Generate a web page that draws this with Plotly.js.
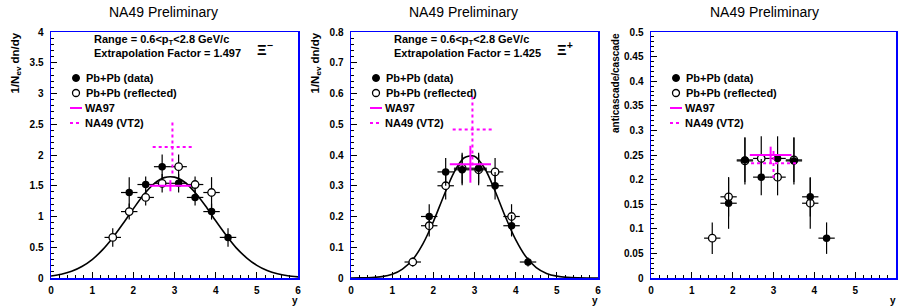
<!DOCTYPE html>
<html>
<head>
<meta charset="utf-8">
<script src="https://cdn.plot.ly/plotly-3.0.1.min.js"></script>
<style>html,body{margin:0;padding:0;background:#fff}#chart{width:898px;height:308px}</style>
</head>
<body>
<div id="chart"></div>
<script>
// ---------------- data ----------------
const dataX      = [1.9, 2.3, 2.7, 3.1, 3.5, 3.9, 4.3];
const reflX      = [1.5, 1.9, 2.3, 2.7, 3.1, 3.5, 3.9];
const binHalfW   = 0.2;

// Panel 1: Xi-
const xiM_data   = [1.39, 1.52, 1.81, 1.54, 1.31, 1.08, 0.66];
const xiM_dataE  = [0.25, 0.13, 0.20, 0.15, 0.13, 0.13, 0.15];
const xiM_refl   = [0.66, 1.08, 1.31, 1.54, 1.81, 1.52, 1.39];
const xiM_reflE  = [0.15, 0.13, 0.13, 0.15, 0.20, 0.13, 0.25];
// Panel 2: Xi+
const xiP_data   = [0.200, 0.345, 0.352, 0.357, 0.300, 0.170, 0.052];
const xiP_dataE  = [0.040, 0.045, 0.050, 0.050, 0.045, 0.035, 0.015];
const xiP_refl   = [0.052, 0.170, 0.300, 0.357, 0.352, 0.345, 0.200];
const xiP_reflE  = [0.015, 0.035, 0.045, 0.050, 0.050, 0.045, 0.040];
// Panel 3: ratio
const ratio_data  = [0.152, 0.240, 0.205, 0.243, 0.238, 0.165, 0.081];
const ratio_dataE = [0.052, 0.045, 0.037, 0.045, 0.048, 0.040, 0.032];
const ratio_refl  = [0.081, 0.165, 0.238, 0.243, 0.205, 0.240, 0.152];
const ratio_reflE = [0.032, 0.040, 0.048, 0.045, 0.037, 0.045, 0.052];

// fitted curves
const curveX  = [0,0.25,0.5,0.75,1,1.25,1.5,1.75,2,2.25,2.5,2.75,3,3.25,3.5,3.75,4,4.25,4.5,4.75,5,5.25,5.5,5.75,6];
const curveXiM = [0.032,0.060,0.109,0.187,0.300,0.457,0.655,0.885,1.125,1.352,1.530,1.632,1.640,1.557,1.390,1.174,0.930,0.699,0.490,0.329,0.206,0.122,0.068,0.036,0.018];
const curveXiP = [0.0001,0.0004,0.0015,0.0046,0.012,0.029,0.060,0.112,0.183,0.266,0.343,0.391,0.396,0.356,0.283,0.199,0.125,0.069,0.034,0.015,0.006,0.002,0.0006,0.0002,0.0];

// WA97 (solid) and NA49 VT2 (dotted) reference points: [x, xerr, y, yerr]
const wa97XiM  = [2.9, 0.5, 1.50, 0.09];
const vt2XiM   = [2.95, 0.48, 2.13, 0.43];
const wa97XiP  = [2.9, 0.5, 0.370, 0.060];
const vt2XiP   = [2.95, 0.48, 0.483, 0.117];
const wa97Rat  = [2.93, 0.51, 0.250, 0.017];
const vt2Rat   = [3.0, 0.55, 0.233, 0.030];

const panelTitle = 'NA49 Preliminary';
const yTitles = ['1/N<sub>ev</sub> dn/dy', '1/N<sub>ev</sub> dn/dy', 'anticascade/cascade'];
const yTitleSizes = [11.5, 11.5, 10];
const yRanges = [[0,4],[0,0.8],[0,0.5]];
const yDticks = [0.5, 0.1, 0.05];
const yMinor  = [0.1, 0.02, 0.01];
const legendLabels = ['Pb+Pb (data)', 'Pb+Pb (reflected)', 'WA97', 'NA49 (VT2)'];
const rangeText = 'Range = 0.6<p<sub>T</sub><2.8 GeV/c';
const extrapText = ['Extrapolation Factor = 1.497', 'Extrapolation Factor = 1.425'];
const particleLabels = ['Ξ<sup>−</sup>', 'Ξ<sup>+</sup>'];

// ---------------- layout geometry ----------------
const W = 898, H = 308;
const P = x => x / W;
const Q = y => 1 - y / H;
const lefts = [51, 351, 651];
const rights = [298, 598, 896];
const topPx = 32, bottomPx = 278;
const FONT = 'Liberation Sans, Arial, sans-serif';
const MAG = '#ff00ff';

const traces = [];
const sfx = ['', '2', '3'];
const panels = [
  {d: xiM_data, de: xiM_dataE, r: xiM_refl, re: xiM_reflE, c: curveXiM, wa: wa97XiM, vt: vt2XiM},
  {d: xiP_data, de: xiP_dataE, r: xiP_refl, re: xiP_reflE, c: curveXiP, wa: wa97XiP, vt: vt2XiP},
  {d: ratio_data, de: ratio_dataE, r: ratio_refl, re: ratio_reflE, c: null, wa: wa97Rat, vt: vt2Rat}
];

function cross(p) {
  return {
    x: [p[0]-p[1], p[0]+p[1], null, p[0], p[0]],
    y: [p[2], p[2], null, p[2]-p[3], p[2]+p[3]]
  };
}

panels.forEach((pn, i) => {
  const xa = 'x' + sfx[i], ya = 'y' + sfx[i];
  if (pn.c) {
    traces.push({x: curveX, y: pn.c, xaxis: xa, yaxis: ya, mode: 'lines',
      line: {color: '#000', width: 1.6, shape: 'spline', smoothing: 0.8}, hoverinfo: 'skip'});
  }
  const eb = (arr) => ({type: 'data', array: arr, visible: true, color: '#000', thickness: 1.2, width: 0});
  const ebx = {type: 'constant', value: binHalfW, visible: true, color: '#000', thickness: 1.2, width: 0};
  traces.push({x: reflX, y: pn.r, xaxis: xa, yaxis: ya, mode: 'markers',
    marker: {symbol: 'circle', size: 7.5, color: '#fff', line: {color: '#000', width: 1.3}},
    error_y: eb(pn.re), error_x: ebx});
  traces.push({x: dataX, y: pn.d, xaxis: xa, yaxis: ya, mode: 'markers',
    marker: {symbol: 'circle', size: 7.5, color: '#000'},
    error_y: eb(pn.de), error_x: ebx});
  const w = cross(pn.wa);
  traces.push({x: w.x, y: w.y, xaxis: xa, yaxis: ya, mode: 'lines',
    line: {color: MAG, width: 2}, hoverinfo: 'skip'});
  const v = cross(pn.vt);
  traces.push({x: v.x, y: v.y, xaxis: xa, yaxis: ya, mode: 'lines',
    line: {color: MAG, width: 2, dash: 'dot'}, hoverinfo: 'skip'});
});

const tickFont = {family: FONT, size: 10, color: '#000', weight: 'bold'};
const layout = {
  width: W, height: H,
  margin: {l: 0, r: 0, t: 0, b: 0},
  paper_bgcolor: '#fff', plot_bgcolor: '#fff',
  showlegend: false,
  annotations: [], shapes: []
};

for (let i = 0; i < 3; i++) {
  const xk = 'xaxis' + sfx[i], yk = 'yaxis' + sfx[i];
  layout[xk] = {
    domain: [P(lefts[i]), P(rights[i])], anchor: 'y' + sfx[i],
    range: [0, 6], tick0: 0, dtick: 1,
    showline: true, linecolor: '#0000ff', linewidth: 1.5, mirror: true,
    ticks: 'inside', ticklen: 6, tickwidth: 1, tickcolor: '#000',
    minor: {dtick: 0.2, tick0: 0, ticks: 'inside', ticklen: 3, tickwidth: 1, tickcolor: '#000', showgrid: false},
    showgrid: false, zeroline: false, tickfont: tickFont, ticklabelstandoff: 2, fixedrange: true
  };
  layout[yk] = {
    domain: [Q(bottomPx), Q(topPx)], anchor: 'x' + sfx[i],
    range: yRanges[i], tick0: 0, dtick: yDticks[i],
    showline: true, linecolor: '#0000ff', linewidth: 1.5, mirror: true,
    ticks: 'inside', ticklen: 6, tickwidth: 1, tickcolor: '#000',
    minor: {dtick: yMinor[i], tick0: 0, ticks: 'inside', ticklen: 3, tickwidth: 1, tickcolor: '#000', showgrid: false},
    showgrid: false, zeroline: false, tickfont: tickFont, ticklabelstandoff: 4, fixedrange: true
  };

  const L = lefts[i];
  const titleCx = [163.5, 463.5, 764][i];
  layout.annotations.push({xref: 'paper', yref: 'paper', x: P(titleCx), y: Q(12), text: panelTitle,
    showarrow: false, xanchor: 'center', yanchor: 'middle', font: {family: FONT, size: 14, color: '#000'}});
  // y title
  layout.annotations.push({xref: 'paper', yref: 'paper', x: P(L - 36), y: Q(topPx - 1), text: yTitles[i],
    showarrow: false, textangle: -90, xanchor: 'center', yanchor: 'top',
    font: {family: FONT, size: yTitleSizes[i], color: '#000', weight: 'bold'}});
  // x title
  layout.annotations.push({xref: 'paper', yref: 'paper', x: P(rights[i] + 2), y: Q(300), text: 'y',
    showarrow: false, xanchor: 'right', yanchor: 'middle',
    font: {family: FONT, size: 10, color: '#000', weight: 'bold'}});
  // legend
  const legFont = {family: FONT, size: 11, color: '#000', weight: 'bold'};
  const rows = [78, 93, 108, 123];
  layout.shapes.push({type: 'circle', xref: 'paper', yref: 'paper', xsizemode: 'pixel', ysizemode: 'pixel',
    xanchor: P(L + 25), yanchor: Q(rows[0]), x0: -3.5, x1: 3.5, y0: -3.5, y1: 3.5,
    fillcolor: '#000', line: {color: '#000', width: 1}});
  layout.shapes.push({type: 'circle', xref: 'paper', yref: 'paper', xsizemode: 'pixel', ysizemode: 'pixel',
    xanchor: P(L + 25), yanchor: Q(rows[1]), x0: -3.5, x1: 3.5, y0: -3.5, y1: 3.5,
    fillcolor: '#fff', line: {color: '#000', width: 1.3}});
  layout.shapes.push({type: 'line', xref: 'paper', yref: 'paper', x0: P(L + 19), x1: P(L + 31), y0: Q(rows[2]), y1: Q(rows[2]),
    line: {color: MAG, width: 2}});
  layout.shapes.push({type: 'line', xref: 'paper', yref: 'paper', x0: P(L + 19), x1: P(L + 31), y0: Q(rows[3]), y1: Q(rows[3]),
    line: {color: MAG, width: 2, dash: 'dot'}});
  const textX = [L + 33, L + 33, L + 32, L + 32];
  legendLabels.forEach((t, k) => {
    layout.annotations.push({xref: 'paper', yref: 'paper', x: P(textX[k]), y: Q(rows[k]), text: t,
      showarrow: false, xanchor: 'left', yanchor: 'middle', font: legFont});
  });
  if (i < 2) {
    const infoFont = {family: FONT, size: 11, color: '#000', weight: 'bold'};
    layout.annotations.push({xref: 'paper', yref: 'paper', x: P(L + 41), y: Q(40), text: rangeText,
      showarrow: false, xanchor: 'left', yanchor: 'middle', font: infoFont});
    layout.annotations.push({xref: 'paper', yref: 'paper', x: P(L + 41), y: Q(53), text: extrapText[i],
      showarrow: false, xanchor: 'left', yanchor: 'middle', font: infoFont});
    layout.annotations.push({xref: 'paper', yref: 'paper', x: P(L + 214), y: Q(49), text: particleLabels[i],
      showarrow: false, xanchor: 'center', yanchor: 'middle', font: {family: FONT, size: 15, color: '#000', weight: 'bold'}});
  }
}

Plotly.newPlot('chart', traces, layout, {staticPlot: true, displayModeBar: false});
</script>
</body>
</html>
